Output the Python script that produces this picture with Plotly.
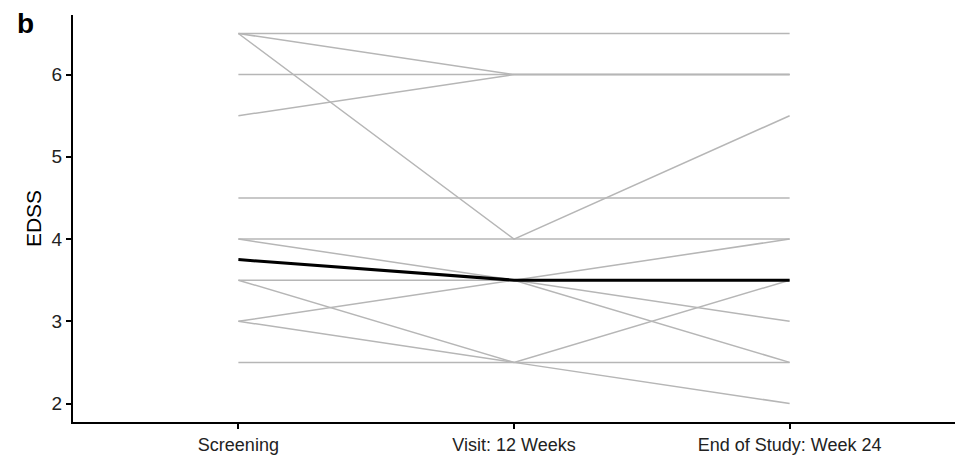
import plotly.graph_objects as go

# Visits on the x axis
visits = ["Screening", "Visit: 12 Weeks", "End of Study: Week 24"]

# EDSS score per subject at each visit
subject_scores = [
    [6.5, 6.5, 6.5],
    [6.5, 6.0, 6.0],
    [6.5, 4.0, 5.5],
    [6.0, 6.0, 6.0],
    [5.5, 6.0, 6.0],
    [4.5, 4.5, 4.5],
    [4.0, 4.0, 4.0],
    [4.0, 3.5, 3.0],
    [3.5, 3.5, 4.0],
    [3.0, 3.5, 2.5],
    [3.5, 2.5, 2.0],
    [3.0, 2.5, 3.5],
    [2.5, 2.5, 2.5],
]

# Group summary line
summary_scores = [3.75, 3.5, 3.5]

y_ticks = [2, 3, 4, 5, 6]

fig = go.Figure()

for scores in subject_scores:
    fig.add_trace(go.Scatter(
        x=visits, y=scores, mode="lines",
        line=dict(color="#b6b6b6", width=1.5),
        showlegend=False, hoverinfo="skip",
    ))

fig.add_trace(go.Scatter(
    x=visits, y=summary_scores, mode="lines",
    line=dict(color="#000000", width=3),
    showlegend=False,
))

font_family = "Liberation Sans, Arial, sans-serif"

fig.update_layout(
    width=960, height=461,
    margin=dict(l=73, r=5, t=15, b=39),
    plot_bgcolor="white", paper_bgcolor="white",
    font=dict(family=font_family, color="#222222"),
    xaxis=dict(
        type="category", range=[-0.6, 2.6],
        showline=True, linecolor="black", linewidth=2,
        ticks="outside", ticklen=5, tickwidth=1.5, tickcolor="black",
        showgrid=False, zeroline=False,
        tickfont=dict(size=18, color="#222222"),
    ),
    yaxis=dict(
        range=[1.775, 6.725], tickvals=y_ticks,
        showline=True, linecolor="black", linewidth=2,
        ticks="outside", ticklen=5, tickwidth=1.5, tickcolor="black",
        showgrid=False, zeroline=False,
        tickfont=dict(size=19, color="#222222"),
        title=dict(text="EDSS", font=dict(size=21, color="#000000"), standoff=4),
    ),
    annotations=[dict(
        text="<b>b</b>", xref="paper", yref="paper",
        x=-0.066, y=0.98, xanchor="left", yanchor="middle",
        showarrow=False, font=dict(size=28, color="black", family=font_family),
    )],
)

fig.write_html("out.html")
